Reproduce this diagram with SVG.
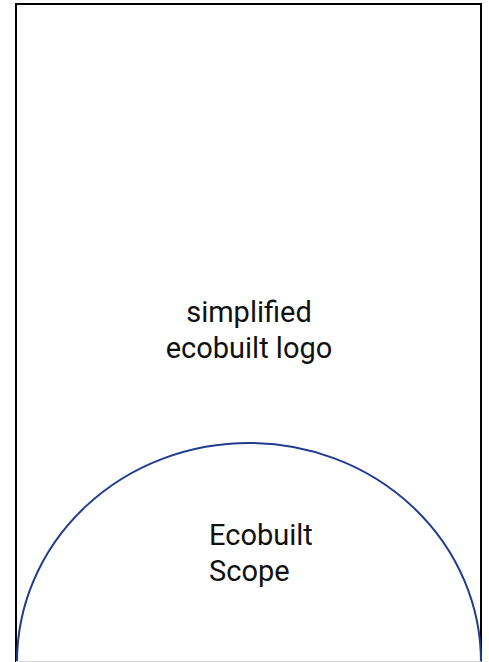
<svg xmlns="http://www.w3.org/2000/svg" width="489" height="662" viewBox="0 0 489 662">
<style>
.lbl{font-family:Roboto,"Liberation Sans",sans-serif;font-size:29px;fill:#111}
</style>
<rect width="489" height="662" fill="#fff"/>
<g id="logo">
<rect x="16" y="4" width="465" height="680" fill="none" stroke="#000" stroke-width="2"/>
<text class="lbl" x="249" y="322" text-anchor="middle">simplified</text>
<text class="lbl" x="249" y="358" text-anchor="middle">ecobuilt logo</text>
</g>
<g id="scope">
<path d="M17,662 A232,219 0 0 1 481,662" fill="none" stroke="#1f3c8f" stroke-width="2"/>
<text class="lbl" x="209" y="545">Ecobuilt</text>
<text class="lbl" x="209" y="581">Scope</text>
</g>
<line x1="16" y1="661.5" x2="481" y2="661.5" stroke="#d9d9d9" stroke-width="1"/>
<g id="connectors"/>
</svg>
